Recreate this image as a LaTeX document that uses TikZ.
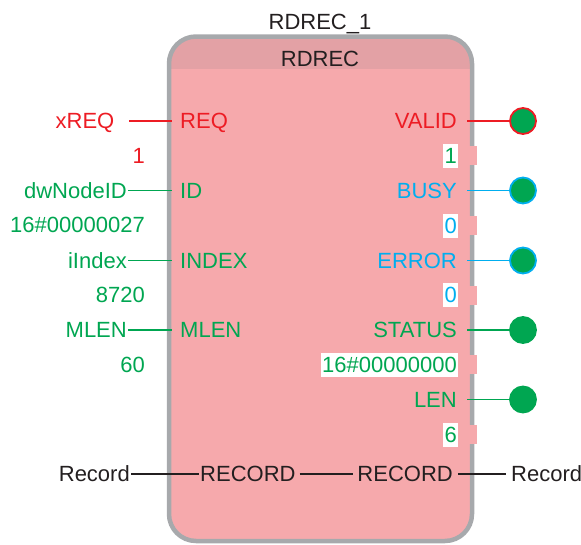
\documentclass[tikz,border=0pt]{standalone}
\usepackage{fontspec}
\setmainfont{Liberation Sans}
\definecolor{pinred}{RGB}{237,28,36}
\definecolor{pingreen}{RGB}{0,166,81}
\definecolor{pincyan}{RGB}{0,174,239}
\definecolor{txtblack}{RGB}{35,31,32}
\definecolor{fbpink}{RGB}{246,169,172}
\definecolor{fbhead}{RGB}{227,161,165}
\definecolor{fbgray}{RGB}{167,169,172}
\tikzset{
	lbl/.style={inner sep=1pt,text height=15.75pt,text depth=0pt,font=\fontsize{22}{26}\selectfont},
	val/.style={lbl,fill=white,inner xsep=1.5pt,minimum height=24pt},
	outpt/.style={circle,fill=pingreen,line width=1.8pt,minimum size=26pt,inner sep=0pt},
	wire/.style={line width=1.6pt}
}

\begin{document}
\begin{tikzpicture}[line cap=butt,line join=round,x=1pt,y=-1pt]
		\useasboundingbox (0,0) rectangle (581,544);
		% block
		\fill [fbpink,rounded corners=27pt] (169,36.5) rectangle (472,541);
		\begin{scope}
			\clip [rounded corners=27pt] (169,36.5) rectangle (472,541);
			\fill [fbhead] (169,36.5) rectangle (472,69);
		\end{scope}
		\draw [fbgray,line width=4.5pt,rounded corners=27pt] (169,36.5) rectangle (472,541);
		\foreach \y in {155.5,225.5,295,364.5,434.5}
			\fill [fbpink] (467,\y-9.5) rectangle (477,\y+9.5);
		\node [lbl,text=txtblack] (inst) at (320,21.5) {RDREC\_1};
		\node [lbl,text=txtblack] (fbname) at (320,58.5) {RDREC};
		% inputs
		\node [lbl,anchor=west,text=pinred] (pinreq) at (179,121) {REQ};
		\node [lbl,anchor=west,text=pingreen] (pinid) at (179,190.5) {ID};
		\node [lbl,anchor=west,text=pingreen] (pinindex) at (179,260.5) {INDEX};
		\node [lbl,anchor=west,text=pingreen] (pinmlen) at (179,330) {MLEN};
		\node [lbl,anchor=east,text=pinred] (xreq) at (115.5,121) {xREQ};
		\node [lbl,anchor=east,text=pinred] (xreqval) at (146,155.5) {1};
		\node [lbl,anchor=east,text=pingreen] (nodeid) at (128,190.5) {dwNodeID};
		\node [lbl,anchor=east,text=pingreen] (nodeidval) at (146,225) {16\#00000027};
		\node [lbl,anchor=east,text=pingreen] (iindex) at (128,260.5) {iIndex};
		\node [lbl,anchor=east,text=pingreen] (iindexval) at (146,295) {8720};
		\node [lbl,anchor=east,text=pingreen] (mlen) at (128,330) {MLEN};
		\node [lbl,anchor=east,text=pingreen] (mlenval) at (146,364.5) {60};
		\draw [wire,pinred] ([xshift=13.5pt]xreq.east) -- ([xshift=-7pt]pinreq.west);
		\draw [wire,pingreen] (nodeid.east) -- ([xshift=-7pt]pinid.west);
		\draw [wire,pingreen] (iindex.east) -- ([xshift=-7pt]pinindex.west);
		\draw [wire,pingreen] (mlen.east) -- ([xshift=-7pt]pinmlen.west);
		% outputs
		\node [lbl,anchor=east,text=pinred] (pinvalid) at (458,121) {VALID};
		\node [lbl,anchor=east,text=pincyan] (pinbusy) at (458,190.5) {BUSY};
		\node [lbl,anchor=east,text=pincyan] (pinerror) at (458,260.5) {ERROR};
		\node [lbl,anchor=east,text=pingreen] (pinstatus) at (458,330) {STATUS};
		\node [lbl,anchor=east,text=pingreen] (pinlen) at (458,399.5) {LEN};
		\node [val,anchor=east,text=pingreen] (validval) at (458.5,155.5) {1};
		\node [val,anchor=east,text=pincyan] (busyval) at (458.5,225.5) {0};
		\node [val,anchor=east,text=pincyan] (errorval) at (458.5,295) {0};
		\node [val,anchor=east,text=pingreen] (statusval) at (458.5,364.5) {16\#00000000};
		\node [val,anchor=east,text=pingreen] (lenval) at (458.5,434.5) {6};
		\node [outpt,draw=pinred] (outvalid) at (523,121) {};
		\node [outpt,draw=pincyan] (outbusy) at (523,190.5) {};
		\node [outpt,draw=pincyan] (outerror) at (523,260.5) {};
		\node [outpt,draw=pingreen] (outstatus) at (523,330) {};
		\node [outpt,draw=pingreen] (outlen) at (523,399.5) {};
		\draw [wire,pinred] ([xshift=9pt]pinvalid.east) -- (outvalid.west);
		\draw [wire,pincyan] ([xshift=9pt]pinbusy.east) -- (outbusy.west);
		\draw [wire,pincyan] ([xshift=9pt]pinerror.east) -- (outerror.west);
		\draw [wire,pingreen] ([xshift=9pt]pinstatus.east) -- (outstatus.west);
		\draw [wire,pingreen] ([xshift=9pt]pinlen.east) -- (outlen.west);
		% in/out
		\node [lbl,anchor=east,text=txtblack] (recin) at (131,474) {Record};
		\node [lbl,anchor=west,text=txtblack] (pinrecin) at (199,474) {RECORD};
		\node [lbl,anchor=east,text=txtblack] (pinrecout) at (454,474) {RECORD};
		\node [lbl,anchor=west,text=txtblack] (recout) at (510,474) {Record};
		\draw [wire,txtblack] (recin.east) -- (pinrecin.west);
		\draw [wire,txtblack] ([xshift=3pt]pinrecin.east) -- ([xshift=-3pt]pinrecout.west);
		\draw [wire,txtblack] ([xshift=4pt]pinrecout.east) -- ([xshift=-4pt]recout.west);
	\end{tikzpicture}
\end{document}
